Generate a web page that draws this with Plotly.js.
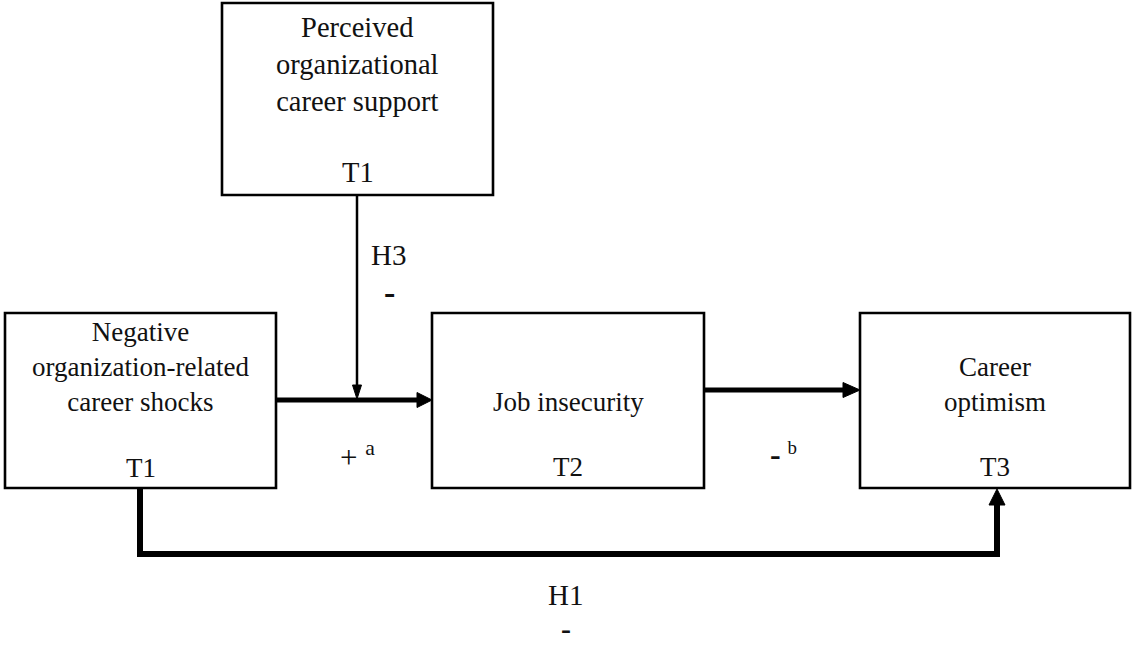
<!DOCTYPE html>
<html>
<head>
<meta charset="utf-8">
<script src="https://cdn.plot.ly/plotly-3.0.1.min.js"></script>
<style>html,body{margin:0;padding:0;background:#fff;}#chart{width:1133px;height:646px;}</style>
</head>
<body>
<div id="chart"></div>
<script>
// Diagram content
const nodeLabels = [
  "Perceived<br>organizational<br>career support",
  "Negative<br>organization-related<br>career shocks",
  "Job insecurity",
  "Career<br>optimism"
];
const nodeTimes = ["T1", "T1", "T2", "T3"];
const pathLabels = ["H3", "H1"];
const pathSigns = ["-", "-"];
const effectSigns = ["+", "-"];
const effectNotes = ["a", "b"];

// Geometry (pixel layout of the diagram)
const boxes = [
  {x0: 222, x1: 493, y0: 3,   y1: 195, ly: 64,  ty: 172, fs: 28.5},
  {x0: 5,   x1: 276, y0: 313, y1: 488, ly: 367, ty: 468, fs: 27},
  {x0: 432, x1: 704, y0: 313, y1: 488, ly: 402, ty: 467, fs: 27},
  {x0: 860, x1: 1130, y0: 313, y1: 488, ly: 384, ty: 467, fs: 27}
];
const FAMILY = "Liberation Serif, Times New Roman, serif";
function font(size) { return {family: FAMILY, size: size, color: "#111"}; }

const shapes = [];
const annotations = [];

boxes.forEach((b, i) => {
  shapes.push({type: "rect", xref: "x", yref: "y", x0: b.x0, x1: b.x1, y0: b.y0, y1: b.y1,
    line: {color: "#000", width: 2.6}, fillcolor: "rgba(0,0,0,0)"});
  const cx = (b.x0 + b.x1) / 2;
  annotations.push({x: cx, y: b.ly, text: nodeLabels[i], showarrow: false,
    xanchor: "center", yanchor: "middle", font: font(b.fs)});
  annotations.push({x: cx, y: b.ty, text: nodeTimes[i], showarrow: false,
    xanchor: "center", yanchor: "middle", font: font(b.fs)});
});

function line(x0, y0, x1, y1, w) {
  shapes.push({type: "line", xref: "x", yref: "y", x0, y0, x1, y1, line: {color: "#000", width: w}});
}
function tri(pts) {
  const p = "M" + pts.map(q => q[0] + "," + q[1]).join(" L") + " Z";
  shapes.push({type: "path", xref: "x", yref: "y", path: p, fillcolor: "#000", line: {color: "#000", width: 1}});
}

// shocks -> job insecurity
line(276, 400, 420, 400, 5);
tri([[417, 392.5], [432, 400], [417, 407.5]]);
// job insecurity -> career optimism
line(704, 390, 846, 390, 5);
tri([[843, 382.5], [860, 390], [843, 397.5]]);
// moderator arrow
line(357, 195, 357, 388, 2.5);
tri([[352.5, 385], [361.5, 385], [357, 399]]);
// direct path H1
shapes.push({type: "path", xref: "x", yref: "y", path: "M140,488 L140,554 L997,554 L997,502",
  line: {color: "#000", width: 6}, fillcolor: "rgba(0,0,0,0)"});
tri([[989, 505], [1005, 505], [997, 489]]);

// path labels
annotations.push({x: 388, y: 255, text: pathLabels[0], showarrow: false, xanchor: "center", yanchor: "middle", font: font(29)});
annotations.push({x: 389, y: 292, text: "<b>" + pathSigns[0] + "</b>", showarrow: false, xanchor: "center", yanchor: "middle", font: font(34)});
annotations.push({x: 565, y: 595, text: pathLabels[1], showarrow: false, xanchor: "center", yanchor: "middle", font: font(29)});
annotations.push({x: 566, y: 646, text: "<b>" + pathSigns[1] + "</b>", showarrow: false, xanchor: "center", yanchor: "bottom", borderpad: 0, font: font(30)});
annotations.push({x: 357, y: 455, text: effectSigns[0] + " <sup>" + effectNotes[0] + "</sup>", showarrow: false, xanchor: "center", yanchor: "middle", font: font(31)});
annotations.push({x: 783, y: 454, text: "<b style='font-size:32px'>" + effectSigns[1] + "</b> <sup>" + effectNotes[1] + "</sup>", showarrow: false, xanchor: "center", yanchor: "middle", font: font(27)});

annotations.forEach(a => { a.xref = "x"; a.yref = "y"; });

const layout = {
  width: 1133, height: 646,
  margin: {l: 0, r: 0, t: 0, b: 0, pad: 0},
  paper_bgcolor: "#fff", plot_bgcolor: "#fff",
  xaxis: {range: [0, 1133], visible: false, fixedrange: true},
  yaxis: {range: [646, 0], visible: false, fixedrange: true},
  showlegend: false,
  shapes: shapes,
  annotations: annotations
};
Plotly.newPlot("chart", [], layout, {staticPlot: true, displayModeBar: false});
</script>
</body>
</html>
